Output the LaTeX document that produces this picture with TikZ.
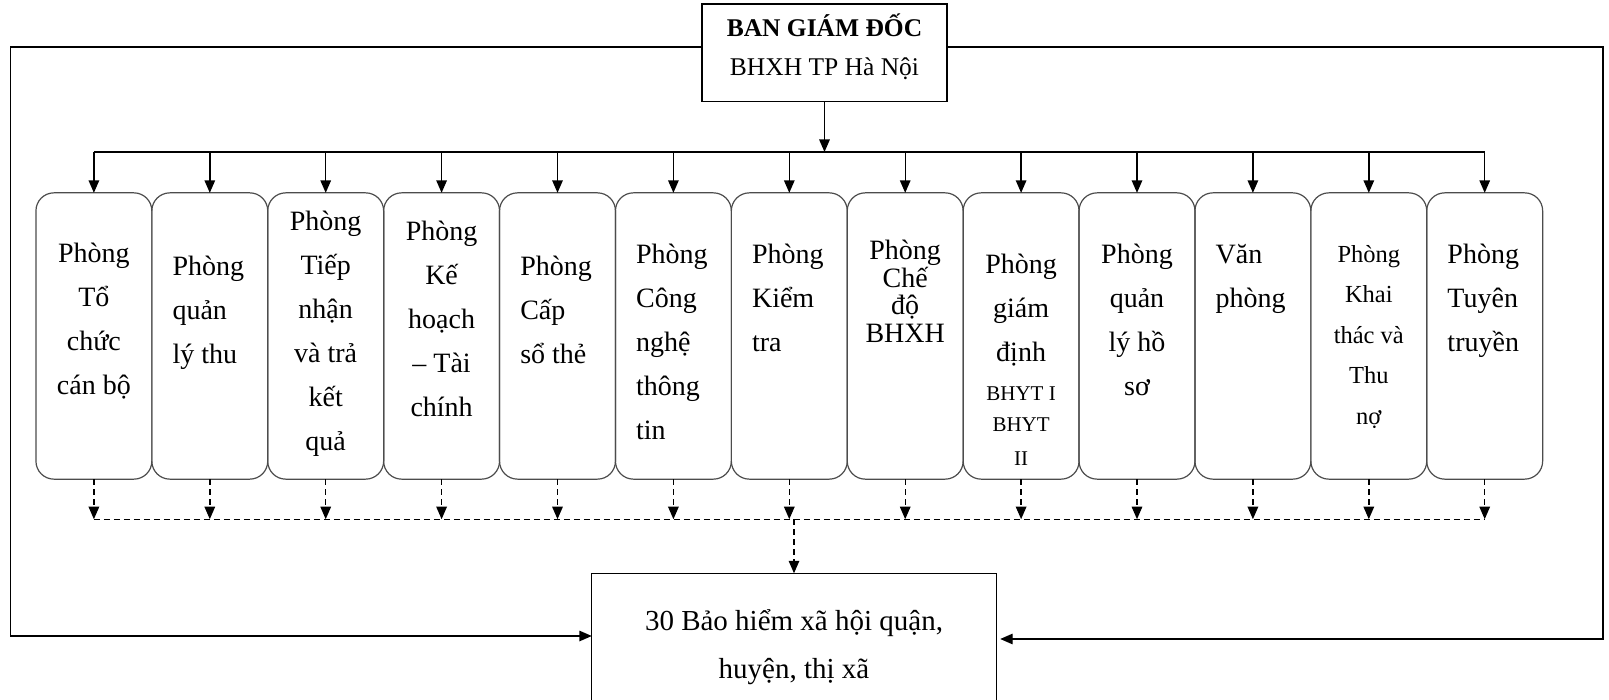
\documentclass[tikz,border=0pt]{standalone}
\usepackage{fontspec}
\setmainfont{Liberation Serif}
\usetikzlibrary{positioning,arrows.meta}
\tikzstyle{head}=[rectangle,minimum width=245pt,minimum height=97.5pt,
text centered,align=center,draw=black,line width=1.2pt,font=\fontsize{25.5}{39}\selectfont]
\tikzstyle{room}=[rectangle,rounded corners=18pt,minimum width=115.9pt,
minimum height=286.3pt,inner sep=0pt,outer sep=0pt,draw=black!70,line width=1.2pt]
\tikzstyle{roomtext}=[inner sep=0pt,align=center,font=\fontsize{28}{44}\selectfont]
\tikzstyle{roomleft}=[roomtext,align=left]
\tikzstyle{district}=[rectangle,minimum width=404pt,minimum height=147pt,
text centered,align=center,font=\fontsize{29}{48}\selectfont]
\tikzstyle{link}=[line width=1.4pt]
\tikzstyle{arrow}=[link,->,>={Triangle[length=12.5pt,width=10.5pt]}]
\tikzstyle{dashlink}=[link,dash pattern=on 6pt off 4pt]
\tikzstyle{dasharrow}=[arrow,dash pattern=on 6pt off 4pt]
\newcommand{\smallline}[1]{{\fontsize{21}{32}\selectfont #1}}
\newcommand{\tightfont}{\fontsize{28}{27.7}\selectfont\lineskiplimit=-30pt\relax}

\begin{document}
\begin{tikzpicture}[x=1pt,y=-1pt]
        \useasboundingbox (0,0) rectangle (1609,700);
        \node (bgd) [head] at (824.5,52.8) {\textbf{BAN GIÁM ĐỐC}\\BHXH TP Hà Nội\rule[-17pt]{0pt}{0pt}};
        \node (p1) [room] at (93.9,336) {};
        \node (p2) [room,right=0pt of p1] {};
        \node (p3) [room,right=0pt of p2] {};
        \node (p4) [room,right=0pt of p3] {};
        \node (p5) [room,right=0pt of p4] {};
        \node (p6) [room,right=0pt of p5] {};
        \node (p7) [room,right=0pt of p6] {};
        \node (p8) [room,right=0pt of p7] {};
        \node (p9) [room,right=0pt of p8] {};
        \node (p10) [room,right=0pt of p9] {};
        \node (p11) [room,right=0pt of p10] {};
        \node (p12) [room,right=0pt of p11] {};
        \node (p13) [room,right=0pt of p12] {};
        \node (bhxh) [district] at (794,647) {30 Bảo hiểm xã hội quận,\\huyện, thị xã};

        % text of the rooms
        \node (t1) [roomtext,below=50pt of p1.north] {Phòng\\Tổ\\chức\\cán bộ};
        \node (t2) [roomleft,below right=63pt and 20.5pt of p2.north west] {Phòng\\quản\\lý thu};
        \node (t3) [roomtext,below=18pt of p3.north] {Phòng\\Tiếp\\nhận\\và trả\\kết\\quả};
        \node (t4) [roomtext,below=28pt of p4.north] {Phòng\\Kế\\hoạch\\– Tài\\chính};
        \node (t5) [roomleft,below right=63pt and 20.5pt of p5.north west] {Phòng\\Cấp\\sổ thẻ};
        \node (t6) [roomleft,below right=51pt and 20.5pt of p6.north west] {Phòng\\Công\\nghệ\\thông\\tin};
        \node (t7) [roomleft,below right=51pt and 20.5pt of p7.north west] {Phòng\\Kiểm\\tra};
        \node (t8) [roomtext,below=47pt of p8.north,font=\tightfont] {Phòng\\Chế\\độ\\BHXH};
        \node (t9) [roomtext,below=61pt of p9.north] {Phòng\\giám\\định\\[-5pt]\smallline{BHYT I}\\[-13pt]\smallline{BHYT}\\[-10pt]\smallline{II}};
        \node (t10) [roomtext,below=51pt of p10.north] {Phòng\\quản\\lý hồ\\sơ};
        \node (t11) [roomleft,below right=51pt and 20.5pt of p11.north west] {Văn\\phòng};
        \node (t12) [roomtext,below=52pt of p12.north,font=\fontsize{24.5}{40.5}\selectfont] {Phòng\\Khai\\thác và\\Thu\\nợ};
        \node (t13) [roomleft,below right=51pt and 20.5pt of p13.north west] {Phòng\\Tuyên\\truyền};

        \coordinate (bus) at (0,152);
        \coordinate (dl) at (0,519.2);
        \coordinate (lc) at (10.3,636);
        \coordinate (rc) at (1602.8,639);

        \draw [arrow] (bgd.south) -- (bgd.south |- bus);
        \draw [link] (p1.north |- bus) -- (p13.north |- bus);
        \draw [arrow] (p1.north |- bus) -- (p1.north);
        \draw [arrow] (p2.north |- bus) -- (p2.north);
        \draw [arrow] (p3.north |- bus) -- (p3.north);
        \draw [arrow] (p4.north |- bus) -- (p4.north);
        \draw [arrow] (p5.north |- bus) -- (p5.north);
        \draw [arrow] (p6.north |- bus) -- (p6.north);
        \draw [arrow] (p7.north |- bus) -- (p7.north);
        \draw [arrow] (p8.north |- bus) -- (p8.north);
        \draw [arrow] (p9.north |- bus) -- (p9.north);
        \draw [arrow] (p10.north |- bus) -- (p10.north);
        \draw [arrow] (p11.north |- bus) -- (p11.north);
        \draw [arrow] (p12.north |- bus) -- (p12.north);
        \draw [arrow] (p13.north |- bus) -- (p13.north);

        \draw [dasharrow] (p1.south) -- (p1.south |- dl);
        \draw [dasharrow] (p2.south) -- (p2.south |- dl);
        \draw [dasharrow] (p3.south) -- (p3.south |- dl);
        \draw [dasharrow] (p4.south) -- (p4.south |- dl);
        \draw [dasharrow] (p5.south) -- (p5.south |- dl);
        \draw [dasharrow] (p6.south) -- (p6.south |- dl);
        \draw [dasharrow] (p7.south) -- (p7.south |- dl);
        \draw [dasharrow] (p8.south) -- (p8.south |- dl);
        \draw [dasharrow] (p9.south) -- (p9.south |- dl);
        \draw [dasharrow] (p10.south) -- (p10.south |- dl);
        \draw [dasharrow] (p11.south) -- (p11.south |- dl);
        \draw [dasharrow] (p12.south) -- (p12.south |- dl);
        \draw [dasharrow] (p13.south) -- (p13.south |- dl);
        \draw [dashlink] (p1.south |- dl) -- (p13.south |- dl);
        \draw [dasharrow] (bhxh.north |- dl) -- (bhxh.north);

        % box of the districts, cut by the page
        \draw [link,line width=1.2pt] (bhxh.south west) -- (bhxh.north west) -- (bhxh.north east) -- (bhxh.south east);

        \draw [arrow] ([yshift=5.6pt]bgd.west) -| (lc) -- (bhxh.west |- lc);
        \draw [arrow] ([yshift=5.6pt]bgd.east) -| (rc) -- ([xshift=4pt]bhxh.east |- rc);
\end{tikzpicture}
\end{document}
